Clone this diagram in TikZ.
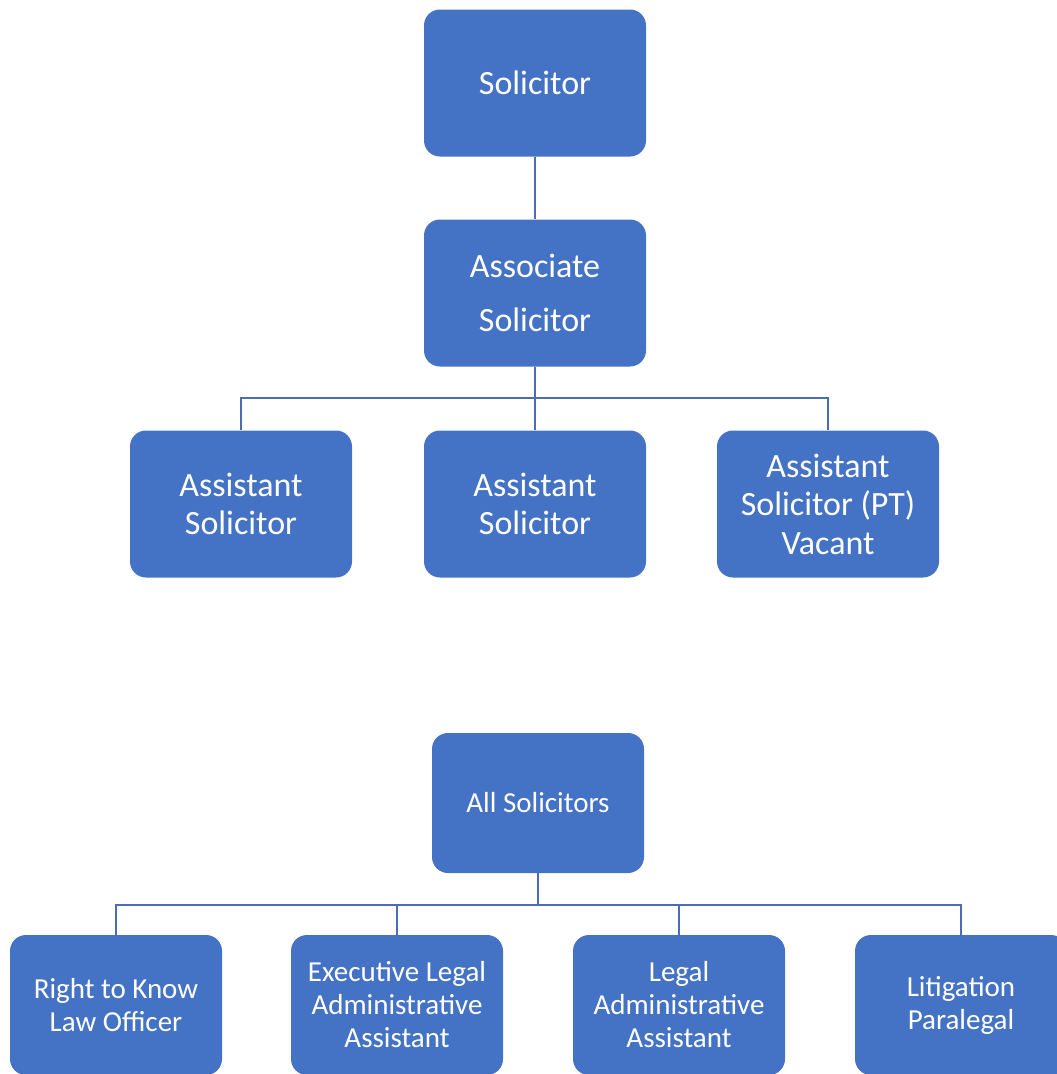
\documentclass[tikz,border=0pt]{standalone}
\usepackage{fontspec}
\setmainfont{Carlito}
\definecolor{boxblue}{HTML}{4472C4}
\definecolor{lineblue}{HTML}{4A6DB3}
\tikzstyle{box}=[rectangle,rounded corners=16pt,fill=boxblue,text=white,align=center,minimum width=222pt,minimum height=147pt,inner sep=0pt,font=\fontsize{34}{38.5}\selectfont]
\tikzstyle{small box}=[box,minimum width=212pt,minimum height=140pt,font=\fontsize{29}{33}\selectfont]
\tikzstyle{edge}=[draw,line width=2.5pt,lineblue]

\begin{document}
\begin{tikzpicture}[x=1pt,y=-1pt]
    \useasboundingbox (0,0) rectangle (1057,1074);

    \foreach \pos/\name/\txt in {{(535,83)/sol/Solicitor},
                                 {(535,293)/assoc/Associate\\[15pt]Solicitor},
                                 {(241,504)/asst1/Assistant\\Solicitor},
                                 {(535,504)/asst2/Assistant\\Solicitor},
                                 {(828,504)/asst3/Assistant\\Solicitor (PT)\\Vacant}}
        \node[box] (\name) at \pos {\txt};

    \node[small box] (all) at (538,803) {All Solicitors};
    \foreach \pos/\name/\txt in {{(116,1005)/rtk/Right to Know\\Law Officer},
                                 {(397,1005)/exec/Executive Legal\\Administrative\\Assistant},
                                 {(679,1005)/legal/Legal\\Administrative\\Assistant},
                                 {(961,1005)/lit/Litigation\\Paralegal}}
        \node[small box] (\name) at \pos {\txt};

    \path[edge] (sol) -- (assoc);
    \foreach \dest in {asst1,asst2,asst3}
        \path[edge] (assoc.south) -- ++(0,31.5) -| (\dest.north);
    \foreach \dest in {rtk,exec,legal,lit}
        \path[edge] (all.south) -- ++(0,32) -| (\dest.north);
\end{tikzpicture}
\end{document}
